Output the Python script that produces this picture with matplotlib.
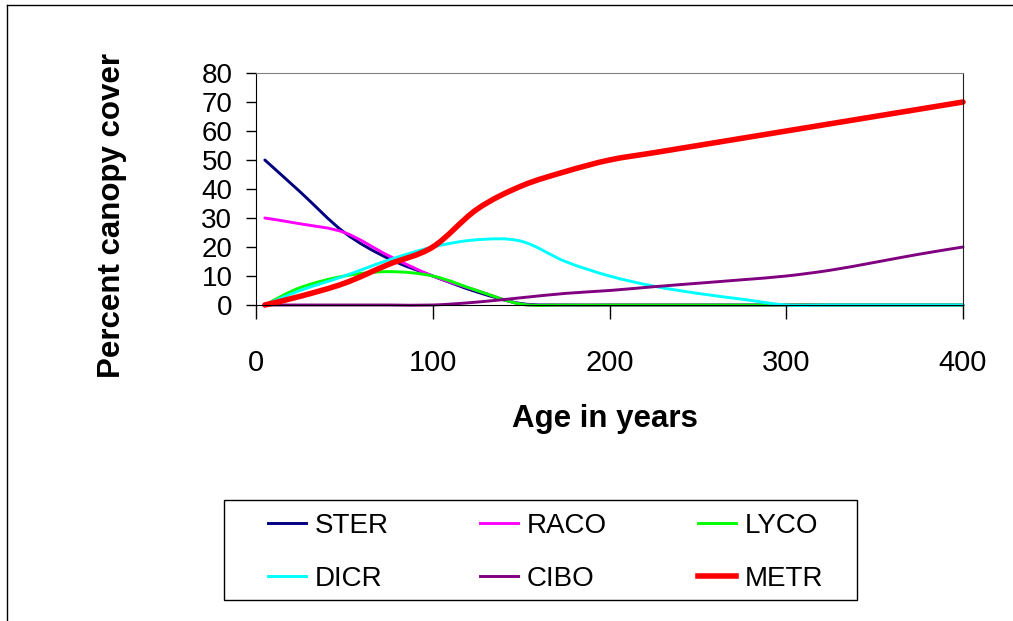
import matplotlib
matplotlib.use("Agg")
import matplotlib.pyplot as plt
import numpy as np
from matplotlib.patches import Rectangle, PathPatch
from matplotlib.path import Path
from matplotlib.lines import Line2D

plt.rcParams['font.family'] = ['Liberation Sans', 'DejaVu Sans']

# ages (years) and percent canopy cover
ages = [5, 25, 50, 75, 100, 125, 150, 175, 200, 225, 250, 275, 300, 325, 350, 375, 400]
ster = [50, 39, 25, 16, 10, 4.5, 0.5, 0, 0, 0, 0, 0, 0, 0, 0, 0, 0]
raco = [30, 28, 25, 17, 10, 5, 0.3, 0, 0, 0, 0, 0, 0, 0, 0, 0, 0]
lyco = [0, 6, 10, 11.5, 10, 5, 0.3, 0, 0, 0, 0, 0, 0, 0, 0, 0, 0]
dicr = [0, 5, 10, 15.5, 20, 22.5, 22, 15, 10, 6.5, 4, 2, 0, 0, 0, 0, 0]
cibo = [0, 0, 0, 0, 0, 1, 2.5, 4, 5, 6.3, 7.5, 8.7, 10, 12, 14.7, 17.5, 20]
metr = [0, 3, 7.5, 14, 20, 33, 41, 46, 50, 52.5, 55, 57.5, 60, 62.5, 65, 67.5, 70]

names = ["STER", "RACO", "LYCO", "DICR", "CIBO", "METR"]
colors = ["#000080", "#FF00FF", "#00FF00", "#00FFFF", "#800080", "#FF0000"]
widths = [2.1, 2.1, 2.1, 2.1, 2.1, 4.0]
series = [ster, raco, lyco, dicr, cibo, metr]


def smooth_path(x, y):
    # Excel-style smoothed line: bezier segments through every data point
    p = np.column_stack([x, y]).astype(float)
    verts = [p[0]]
    codes = [Path.MOVETO]
    n = len(p)
    for i in range(n - 1):
        p0 = p[i - 1] if i > 0 else p[i]
        p3 = p[i + 2] if i + 2 < n else p[i + 1]
        c1 = p[i] + (p[i + 1] - p0) / 6
        c2 = p[i + 1] - (p3 - p[i]) / 6
        verts += [c1, c2, p[i + 1]]
        codes += [Path.CURVE4] * 3
    return Path(verts, codes)


W, H = 1013, 621
fig = plt.figure(figsize=(W / 100, H / 100), dpi=100)
ax = fig.add_axes([256 / W, 1 - 305 / H, (963 - 256) / W, (305 - 73) / H])

handles = {}
for name, col, lw, vals in zip(names, colors, widths, series):
    ax.add_patch(PathPatch(smooth_path(ages, vals), facecolor='none', edgecolor=col,
                           lw=lw, joinstyle='round', capstyle='round', clip_on=False))
    handles[name] = Line2D([], [], color=col, lw=lw)

ax.set_xlim(0, 400)
ax.set_ylim(0, 80)
ax.set_xticks([0, 100, 200, 300, 400])
ax.set_yticks(range(0, 81, 10))
ax.tick_params(axis='y', direction='out', length=7, width=1, labelsize=20, pad=10)
ax.tick_params(axis='x', direction='out', length=10, width=1, labelsize=21, pad=22)
for s in ['left', 'bottom']:
    ax.spines[s].set_color('black')
ax.spines['top'].set_color('#808080')
ax.spines['right'].set_color('#202020')

fig.text(112 / W, 1 - 215 / H, "Percent canopy cover", rotation=90,
         ha='center', va='center', fontsize=22.5, fontweight='bold')
fig.text(605 / W, 1 - 419 / H, "Age in years", ha='center', va='center',
         fontsize=22.5, fontweight='bold')

# legend box
fig.patches.append(Rectangle((224 / W, 1 - 600 / H), (857 - 224) / W, 100 / H,
                             transform=fig.transFigure, fill=False,
                             edgecolor='black', lw=1))
order = ["STER", "DICR", "RACO", "CIBO", "LYCO", "METR"]
fig.legend([handles[n] for n in order], order, ncol=3, loc='upper left',
           bbox_to_anchor=(268 / W, 1 - 513 / H), frameon=False, fontsize=20,
           borderpad=0, borderaxespad=0, handlelength=1.37, handletextpad=0.3,
           columnspacing=3.3, labelspacing=0.97)

# chart area border
fig.add_artist(Line2D([7 / W, 7 / W], [0, 1 - 5 / H], transform=fig.transFigure,
                      color='black', lw=1))
fig.add_artist(Line2D([7 / W, 1], [1 - 5 / H, 1 - 5 / H], transform=fig.transFigure,
                      color='black', lw=1))

fig.savefig("out.png", dpi=100)
